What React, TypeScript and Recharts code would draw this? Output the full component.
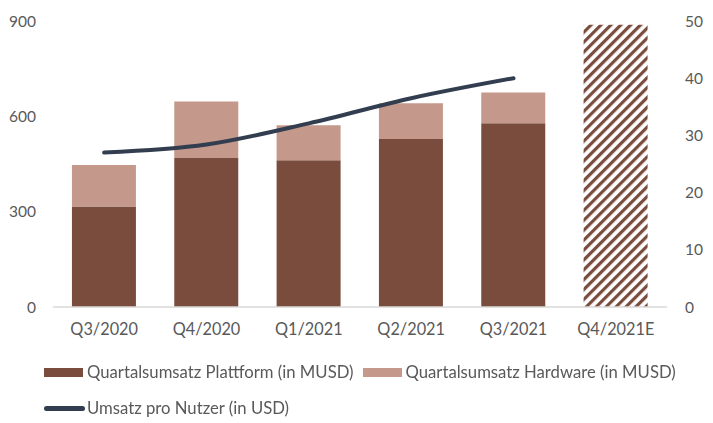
import { ComposedChart, Bar, Line, XAxis, YAxis } from "recharts";

const quarters = ["Q3/2020", "Q4/2020", "Q1/2021", "Q2/2021", "Q3/2021", "Q4/2021E"];
const plattform = [316, 469, 462, 529, 578, null];
const hardware = [131, 178, 110, 112, 97, null];
const forecast = [null, null, null, null, null, 888];
const perUser = [27, 28.4, 32.1, 36.5, 40, null];

const leftTicks = [0, 300, 600, 900];
const rightTicks = [0, 10, 20, 30, 40, 50];

const data = quarters.map((q, i) => ({
  name: q,
  plattform: plattform[i],
  hardware: hardware[i],
  forecast: forecast[i],
  perUser: perUser[i],
}));

const FONT = "Lato, 'Liberation Sans', sans-serif";
const DARK = "#7A4C3D";
const LIGHT = "#C4988A";
const NAVY = "#323E4F";
const TEXT = "#595959";

const yTick = { fontSize: 15.5, fill: TEXT, fontFamily: FONT };
const xTick = { fontSize: 16.3, fill: TEXT, fontFamily: FONT };

function LegendRow({ children }: { children: React.ReactNode }) {
  return <div style={{ display: "flex", alignItems: "center", height: 36 }}>{children}</div>;
}

export default function App() {
  return (
    <div style={{ position: "fixed", top: 0, left: 0, width: 713, height: 423, background: "#fff" }}>
      <ComposedChart
        width={713}
        height={345}
        data={data}
        margin={{ top: 21, right: 0, bottom: 0, left: 0 }}
        barCategoryGap="18.5%"
      >
        <defs>
          <pattern id="hatch" width="7" height="7" patternUnits="userSpaceOnUse" patternTransform="rotate(45)">
            <rect width="7" height="7" fill="#fff" />
            <rect width="3.2" height="7" fill={DARK} />
          </pattern>
        </defs>
        <XAxis
          dataKey="name"
          height={38}
          tickLine={false}
          tickSize={0}
          tickMargin={16}
          axisLine={{ stroke: "#D9D9D9", strokeWidth: 1.5 }}
          tick={xTick}
        />
        <YAxis
          yAxisId="left"
          width={53}
          domain={[0, 900]}
          ticks={leftTicks}
          axisLine={false}
          tickLine={false}
          tickSize={0}
          tickMargin={17}
          tick={yTick}
        />
        <YAxis
          yAxisId="right"
          orientation="right"
          width={46}
          domain={[0, 50]}
          ticks={rightTicks}
          axisLine={false}
          tickLine={false}
          tickSize={0}
          tickMargin={18}
          tick={{ ...yTick, textAnchor: "start" }}
        />
        <Bar yAxisId="left" dataKey="plattform" stackId="a" fill={DARK} isAnimationActive={false} />
        <Bar yAxisId="left" dataKey="hardware" stackId="a" fill={LIGHT} isAnimationActive={false} />
        <Bar yAxisId="left" dataKey="forecast" stackId="a" fill="url(#hatch)" isAnimationActive={false} />
        <Line
          yAxisId="right"
          dataKey="perUser"
          type="monotone"
          stroke={NAVY}
          strokeWidth={4}
          strokeLinecap="round"
          dot={false}
          activeDot={false}
          isAnimationActive={false}
        />
      </ComposedChart>
      <div
        style={{
          position: "absolute",
          top: 354,
          left: 44,
          fontFamily: FONT,
          fontSize: 16.7,
          color: TEXT,
        }}
      >
        <LegendRow>
          <span style={{ width: 39, height: 9, background: DARK, marginRight: 4 }} />
          <span style={{ marginRight: 9 }}>Quartalsumsatz Plattform (in MUSD)</span>
          <span style={{ width: 39, height: 9, background: LIGHT, marginRight: 4 }} />
          <span>Quartalsumsatz Hardware (in MUSD)</span>
        </LegendRow>
        <LegendRow>
          <span style={{ width: 41, height: 5, borderRadius: 3, background: NAVY, marginRight: 2 }} />
          <span>Umsatz pro Nutzer (in USD)</span>
        </LegendRow>
      </div>
    </div>
  );
}
